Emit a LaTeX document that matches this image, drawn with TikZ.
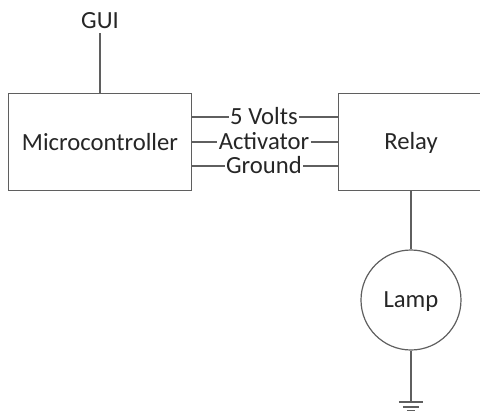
\documentclass[tikz,border=0pt]{standalone}
\usepackage{fontspec}
\setmainfont{Carlito}
\definecolor{ln}{RGB}{95,95,95}
\tikzset{
 boxn/.style={draw=ln,line width=0.9pt,inner sep=0pt},
 wire/.style={draw=ln,line width=0.9pt},
 lbl/.style={font=\fontsize{18.5pt}{20pt}\selectfont,text=black!85,inner sep=0pt},
 wlbl/.style={lbl,fill=white,inner xsep=1pt,inner ysep=0pt,text height=12.5pt,text depth=2pt}
}
\begin{document}
\begin{tikzpicture}[x=0.75pt,y=-0.75pt]
\useasboundingbox (0,0) rectangle (480,411);
\clip (0,0) rectangle (480,411);
\node[boxn,minimum width=183pt*0.75,minimum height=97pt*0.75,anchor=north west] (mc) at (8,93) {};
\node[lbl] at (100,142) {Microcontroller};
\node[boxn,minimum width=150pt*0.75,minimum height=97pt*0.75,anchor=north west] (rl) at (338,93) {};
\node[lbl] at (411,143) {Relay};
\node[lbl] (gui) at (100,21) {GUI};
\coordinate (guib) at (100,33);
\draw[wire] (guib) -- (mc.north -| guib);
\node[wlbl] (v5) at (264,117) {5 Volts};
\node[wlbl] (ac) at (264,142) {Activator};
\node[wlbl] (gd) at (264,166) {Ground};
\draw[wire] (v5.west -| mc.east) -- (v5.west);
\draw[wire] (v5.east) -- (v5.east -| rl.west);
\draw[wire] (ac.west -| mc.east) -- (ac.west);
\draw[wire] (ac.east) -- (ac.east -| rl.west);
\draw[wire] (gd.west -| mc.east) -- (gd.west);
\draw[wire] (gd.east) -- (gd.east -| rl.west);
\node[boxn,circle,minimum size=100pt*0.75,anchor=center] (lamp) at (411,300) {};
\node[lbl] at (411,302) {Lamp};
\draw[wire] (rl.south -| lamp.north) -- (lamp.north);
\coordinate (g) at (411,402);
\draw[wire] (lamp.south) -- (g);
\coordinate (g1a) at (399,402); \coordinate (g1b) at (423,402);
\coordinate (g2a) at (403,407); \coordinate (g2b) at (419,407);
\coordinate (g3a) at (407,411); \coordinate (g3b) at (415,411);
\draw[wire] (g1a) -- (g1b);
\draw[wire] (g2a) -- (g2b);
\draw[wire] (g3a) -- (g3b);
\end{tikzpicture}
\end{document}
